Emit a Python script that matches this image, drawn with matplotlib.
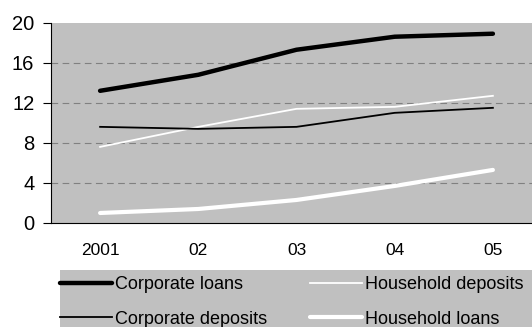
import matplotlib
matplotlib.use("Agg")
import matplotlib.pyplot as plt
from matplotlib.patches import Rectangle

plt.rcParams['font.family'] = ['Liberation Sans', 'DejaVu Sans']

years = ["2001", "02", "03", "04", "05"]
corporate_loans = [13.2, 14.8, 17.3, 18.6, 18.9]
household_deposits = [7.6, 9.6, 11.4, 11.6, 12.7]
corporate_deposits = [9.6, 9.4, 9.6, 11.0, 11.5]
household_loans = [1.0, 1.4, 2.3, 3.7, 5.3]
yticks = [0, 4, 8, 12, 16, 20]

W, H = 532, 327
fig = plt.figure(figsize=(W / 100, H / 100), dpi=100)
# axes from x=51 to 542 px, y=22.7 to 223 px
ax = fig.add_axes([51 / W, (H - 223) / H, (542 - 51) / W, (223 - 22.7) / H])
ax.set_facecolor('#C0C0C0')
x = range(len(years))
l1, = ax.plot(x, corporate_loans, color='black', lw=3.2, solid_capstyle='round', label='Corporate loans', zorder=3)
l2, = ax.plot(x, household_deposits, color='white', lw=1.3, label='Household deposits', zorder=3)
l3, = ax.plot(x, corporate_deposits, color='black', lw=1.3, label='Corporate deposits', zorder=3)
l4, = ax.plot(x, household_loans, color='white', lw=3.0, solid_capstyle='round', label='Household loans', zorder=3)

ax.set_xlim(-0.5, 4.5)
ax.set_ylim(0, 20)
ax.set_yticks(yticks)
ax.set_xticks(list(x))
ax.set_xticklabels(years)
ax.tick_params(axis='x', length=0, pad=14.5, labelsize=12.5)
ax.tick_params(axis='y', length=6, width=0.8, direction='out', labelsize=14.5, pad=6)
for s in ['top', 'right']:
    ax.spines[s].set_visible(False)
ax.spines['left'].set_linewidth(0.8)
ax.spines['bottom'].set_linewidth(0.8)
for v in [4, 8, 12, 16]:
    ax.axhline(v, color='#808080', lw=0.8, ls=(0, (6, 4)), zorder=1)

fig.patches.append(Rectangle((60 / W, 0), (W - 60) / W, 57 / H, transform=fig.transFigure,
                             facecolor='#C0C0C0', edgecolor='none', zorder=0))
common = dict(loc='upper left', frameon=False, fontsize=13, handlelength=2.9,
              handletextpad=0.17, borderaxespad=0, borderpad=0, labelspacing=0.97)
leg1 = fig.legend(handles=[l1, l3], bbox_to_anchor=(60 / W, (H - 276) / H), **common)
leg2 = fig.legend(handles=[l2, l4], bbox_to_anchor=(310 / W, (H - 276) / H), **common)
fig.savefig('out.png', dpi=100)
